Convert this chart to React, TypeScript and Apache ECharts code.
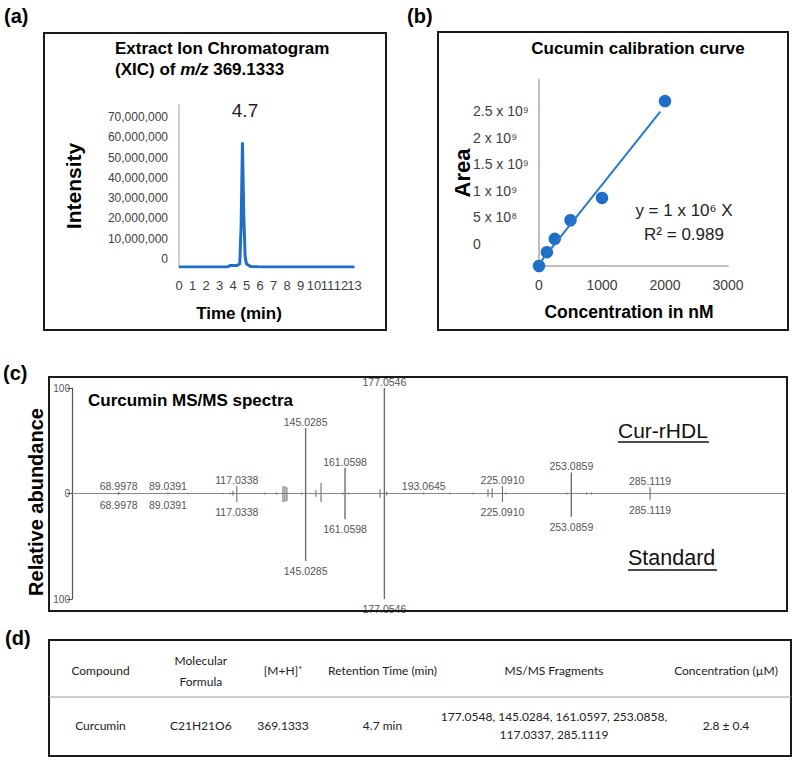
import React, { useEffect, useRef } from 'react';
import * as echarts from 'echarts';

// ---------- (a) XIC chromatogram ----------
const xicTime = [0, 3.6, 3.8, 4.3, 4.5, 4.6, 4.7, 4.8, 4.9, 5.0, 5.3, 6, 13];
const xicIntensity = [0, 0, 800000, 800000, 1500000, 20000000, 61500000, 25000000, 5000000, 1500000, 300000, 0, 0];
const xicPeakLabel = '4.7';

// ---------- (b) calibration curve ----------
const calConc = [0, 125, 250, 500, 1000, 2000];
const calArea = [0, 0.26e9, 0.51e9, 0.86e9, 1.28e9, 3.1e9];
const trendConc = [0, 1925];
const trendArea = [0.04e9, 2.9e9];
const calAreaTickLabels = ['0', '5 x 10\u2078', '1 x 10\u2079', '1.5 x 10\u2079', '2 x 10\u2079', '2.5 x 10\u2079'];

// ---------- (c) MS/MS spectra ----------
const peakMz = [68.9978, 89.0391, 97.2, 111.3, 114.3, 115.5, 117.0338, 128.5, 133.2, 135.8, 136.6, 137.4, 143.4, 145.0285, 149.2, 151.3, 160.2, 161.0598, 162.4, 175.3, 177.0546, 178.0, 193.0645, 203.7, 213.2, 219.2, 220.9, 225.091, 226.5, 251.2, 253.0859, 259.3, 261.3, 285.1119];
const rhdlAbundance = [1.5, 1, 0.8, 0.8, 1, 2.5, 7, 1, 1, 7, 7, 6, 1, 62, 3, 10, 1, 24.5, 1, 4, 100, 2, 1, 1, 1, 4, 5, 7, 1, 1, 20, 1, 1, 6];
const standardAbundance = [1.5, 1, 0.8, 0.8, 1, 2, 8, 1, 1, 8, 8, 7, 1, 64, 3, 8, 1, 24.5, 1, 4, 100, 2, 1, 1, 1, 3, 4, 8, 1, 1, 22, 1, 1, 6];
const rhdlLabeled = [68.9978, 89.0391, 117.0338, 145.0285, 161.0598, 177.0546, 193.0645, 225.091, 253.0859, 285.1119];
const standardLabeled = [68.9978, 89.0391, 117.0338, 145.0285, 161.0598, 177.0546, 225.091, 253.0859, 285.1119];

// ---------- (d) table ----------
const tableHeaders = ['Compound', 'Molecular\nFormula', '[M+H]\u207A', 'Retention Time (min)', 'MS/MS Fragments', 'Concentration (\u00B5M)'];
const tableRow = ['Curcumin', 'C21H21O6', '369.1333', '4.7 min', '177.0548, 145.0284, 161.0597, 253.0858,\n117.0337, 285.1119', '2.8 \u00B1 0.4'];

const ARIAL = '"Liberation Sans", Arial, sans-serif';
const CAL = 'Lato, "Open Sans", sans-serif';
const BLUE = '#1f6fc6';

function txt(x: number, y: number, text: string, o: any = {}) {
  const align = o.align || 'left';
  const va = o.verticalAlign || 'middle';
  return {
    type: 'text',
    x,
    y,
    rotation: o.rotation || 0,
    z: 10,
    style: {
      text,
      fill: o.fill || '#000',
      fontSize: o.fontSize || 12,
      fontWeight: o.fontWeight || 'normal',
      fontStyle: o.fontStyle || 'normal',
      fontFamily: o.fontFamily || ARIAL,
      align,
      verticalAlign: va,
      textAlign: align,
      textVerticalAlign: va,
      lineHeight: o.lineHeight,
      rich: o.rich,
    },
  };
}

function frame(x: number, y: number, w: number, h: number) {
  return {
    type: 'rect',
    z: 5,
    shape: { x, y, width: w, height: h },
    style: { fill: 'none', stroke: '#1a1a1a', lineWidth: 2 },
  };
}

function hline(x1: number, x2: number, y: number, stroke: string, lw: number) {
  return { type: 'line', z: 10, shape: { x1, y1: y, x2, y2: y }, style: { stroke, lineWidth: lw } };
}

function makePeakRender(side: number, labeled: number[]) {
  return (params: any, api: any) => {
    const mz = api.value(0);
    const ab = api.value(1);
    const base = api.coord([mz, 0]);
    const tip = api.coord([mz, ab]);
    const children: any[] = [
      {
        type: 'line',
        shape: { x1: base[0], y1: base[1], x2: tip[0], y2: tip[1] },
        style: { stroke: '#6e6e6e', lineWidth: ab > 15 || ab < -15 ? 1.4 : 1.1 },
      },
    ];
    if (labeled.indexOf(mz) >= 0) {
      children.push({
        type: 'text',
        x: tip[0],
        y: side > 0 ? tip[1] - 6 : tip[1] + 10,
        style: {
          text: mz.toFixed(4),
          fill: '#555',
          fontSize: 10.5,
          fontFamily: ARIAL,
          align: 'center',
          verticalAlign: 'middle',
        },
      });
    }
    return { type: 'group', children };
  };
}

export default function App() {
  const ref = useRef<HTMLDivElement>(null);

  useEffect(() => {
    if (!ref.current) return;
    const chart = echarts.init(ref.current, undefined, { renderer: 'svg' });

    const colX = [100.5, 200.8, 283, 382.5, 554, 726];

    const graphic: any[] = [
      // panel labels
      txt(4, 16, '(a)', { fontSize: 20, fontWeight: 'bold' }),
      txt(407, 16, '(b)', { fontSize: 20, fontWeight: 'bold' }),
      txt(3, 373, '(c)', { fontSize: 20, fontWeight: 'bold' }),
      txt(5, 638, '(d)', { fontSize: 20, fontWeight: 'bold' }),
      // frames
      frame(44, 33, 342, 297),
      frame(438, 32, 350, 298),
      frame(49, 377, 738, 234),
      frame(49, 640, 742, 116),
      // (a) texts
      txt(115, 48, 'Extract Ion Chromatogram', { fontSize: 17, fontWeight: 'bold' }),
      txt(115, 69, '{b|(XIC) of }{i|m/z}{b| 369.1333}', {
        fontSize: 17,
        fontWeight: 'bold',
        rich: {
          b: { fontSize: 17, fontWeight: 'bold', fontFamily: ARIAL, fill: '#000' },
          i: { fontSize: 17, fontWeight: 'bold', fontStyle: 'italic', fontFamily: ARIAL, fill: '#000' },
        },
      }),
      txt(245, 110, xicPeakLabel, { fontSize: 19, align: 'center', fill: '#222' }),
      txt(73, 186, 'Intensity', { fontSize: 21, fontWeight: 'bold', align: 'center', rotation: Math.PI / 2 }),
      txt(239, 313, 'Time (min)', { fontSize: 17, fontWeight: 'bold', align: 'center' }),
      // (b) texts
      txt(638, 48, 'Cucumin calibration curve', { fontSize: 17, fontWeight: 'bold', align: 'center' }),
      txt(462, 173, 'Area', { fontSize: 22, fontWeight: 'bold', align: 'center', rotation: Math.PI / 2 }),
      txt(629, 312, 'Concentration in nM', { fontSize: 17.5, fontWeight: 'bold', align: 'center' }),
      txt(684, 210, 'y = 1 x 10\u2076 X', { fontSize: 17, align: 'center', fill: '#222' }),
      txt(684, 234, 'R\u00B2 = 0.989', { fontSize: 17, align: 'center', fill: '#222' }),
      // (c) texts
      txt(88, 400, 'Curcumin MS/MS spectra', { fontSize: 17, fontWeight: 'bold' }),
      txt(36, 502, 'Relative abundance', { fontSize: 20, fontWeight: 'bold', align: 'center', rotation: Math.PI / 2 }),
      txt(618, 430, 'Cur-rHDL', { fontSize: 21, fill: '#111' }),
      hline(618, 709, 442, '#111', 1.5),
      txt(628, 558, 'Standard', { fontSize: 21.5, fill: '#111' }),
      hline(628, 717, 570, '#111', 1.5),
      // (d) table
      hline(49, 791, 697, '#9a9a9a', 1),
    ];

    tableHeaders.forEach((h, i) => {
      graphic.push(txt(colX[i], 670.5, h, { fontFamily: CAL, fontSize: 12, align: 'center', lineHeight: 21, fill: '#222' }));
    });
    tableRow.forEach((c, i) => {
      graphic.push(txt(colX[i], 725.5, c, { fontFamily: CAL, fontSize: 12, align: 'center', lineHeight: 18.5, fill: '#222' }));
    });

    const labelColor = '#404040';
    const timeLabelStyle = { color: labelColor, fontSize: 13, fontFamily: ARIAL, margin: 12 };

    chart.setOption({
      animation: false,
      backgroundColor: '#fff',
      grid: [
        { left: 179, top: 104.7, width: 175.5, height: 162.3, containLabel: false },
        { left: 539, top: 79.8, width: 189, height: 186.2, containLabel: false },
        { left: 72, top: 388, width: 713, height: 211, containLabel: false },
        // label-only grid for the area axis (labels printed above their ticks)
        { left: 539, top: 57.8, width: 189, height: 186.2, containLabel: false },
      ],
      xAxis: [
        {
          gridIndex: 0,
          type: 'value',
          position: 'bottom',
          min: 0,
          max: 13,
          interval: 1,
          axisLine: { show: false },
          axisTick: { show: false },
          splitLine: { show: false },
          axisLabel: { ...timeLabelStyle, showMinLabel: true, showMaxLabel: false, hideOverlap: false },
        },
        {
          gridIndex: 1,
          type: 'value',
          min: 0,
          max: 3000,
          interval: 1000,
          axisLine: { show: true, lineStyle: { color: '#bfbfbf', width: 2 } },
          axisTick: { show: false },
          splitLine: { show: false },
          axisLabel: {
            color: labelColor,
            fontSize: 14,
            fontFamily: ARIAL,
            margin: 12,
            formatter: (v: number) => String(v),
          },
        },
        {
          gridIndex: 2,
          type: 'value',
          min: 50,
          max: 340,
          axisLine: { show: true, onZero: true, lineStyle: { color: '#8a8a8a', width: 1.2 } },
          axisTick: { show: false },
          splitLine: { show: false },
          axisLabel: { show: false },
        },
        {
          gridIndex: 3,
          type: 'value',
          min: 0,
          max: 3000,
          show: false,
        },
        // second time axis: shows only the last tick label (13), which overlaps 12 as in the original
        {
          gridIndex: 0,
          type: 'value',
          position: 'bottom',
          min: 0,
          max: 13,
          interval: 1,
          axisLine: { show: false },
          axisTick: { show: false },
          splitLine: { show: false },
          axisLabel: {
            ...timeLabelStyle,
            showMinLabel: false,
            showMaxLabel: true,
            formatter: (v: number) => (v === 13 ? '13' : ''),
          },
        },
      ],
      yAxis: [
        {
          gridIndex: 0,
          type: 'value',
          min: 0,
          max: 80000000,
          interval: 10000000,
          axisLine: { show: true, lineStyle: { color: '#c0c0c0', width: 1.5 } },
          axisTick: { show: false },
          splitLine: { show: false },
          axisLabel: {
            color: labelColor,
            fontSize: 12,
            fontFamily: ARIAL,
            margin: 11,
            verticalAlign: 'bottom',
            lineHeight: 16,
            formatter: (v: number) => (v >= 80000000 ? '' : v.toLocaleString('en-US')),
          },
        },
        {
          gridIndex: 1,
          type: 'value',
          min: 0,
          max: 3500000000,
          interval: 500000000,
          axisLine: { show: true, lineStyle: { color: '#bfbfbf', width: 2 } },
          axisTick: { show: false },
          splitLine: { show: false },
          axisLabel: { show: false },
        },
        {
          gridIndex: 2,
          type: 'value',
          min: -100,
          max: 100,
          interval: 100,
          axisLine: { show: true, lineStyle: { color: '#555', width: 1.2 } },
          axisTick: { show: true, length: 5, lineStyle: { color: '#555' } },
          splitLine: { show: false },
          axisLabel: {
            color: '#555',
            fontSize: 10,
            fontFamily: ARIAL,
            margin: 2,
            formatter: (v: number) => String(Math.abs(v)),
          },
        },
        {
          gridIndex: 3,
          type: 'value',
          min: 0,
          max: 3500000000,
          interval: 500000000,
          axisLine: { show: false },
          axisTick: { show: false },
          splitLine: { show: false },
          axisLabel: {
            color: labelColor,
            fontSize: 14,
            fontFamily: ARIAL,
            align: 'left',
            margin: 66,
            showMinLabel: true,
            formatter: (v: number) => {
              const i = Math.round(v / 500000000);
              return i < calAreaTickLabels.length ? calAreaTickLabels[i] : '';
            },
          },
        },
      ],
      series: [
        {
          type: 'line',
          xAxisIndex: 0,
          yAxisIndex: 0,
          data: xicTime.map((t, i) => [t, xicIntensity[i]]),
          showSymbol: false,
          lineStyle: { color: BLUE, width: 3 },
          itemStyle: { color: BLUE },
        },
        {
          type: 'line',
          xAxisIndex: 1,
          yAxisIndex: 1,
          data: trendConc.map((c, i) => [c, trendArea[i]]),
          showSymbol: false,
          lineStyle: { color: '#2a78c8', width: 2 },
        },
        {
          type: 'scatter',
          xAxisIndex: 1,
          yAxisIndex: 1,
          data: calConc.map((c, i) => [c, calArea[i]]),
          symbolSize: 12.5,
          clip: false,
          itemStyle: { color: BLUE, opacity: 1 },
        },
        {
          type: 'custom',
          xAxisIndex: 2,
          yAxisIndex: 2,
          clip: false,
          renderItem: makePeakRender(1, rhdlLabeled),
          data: peakMz.map((m, i) => [m, rhdlAbundance[i]]),
        },
        {
          type: 'custom',
          xAxisIndex: 2,
          yAxisIndex: 2,
          clip: false,
          renderItem: makePeakRender(-1, standardLabeled),
          data: peakMz.map((m, i) => [m, -standardAbundance[i]]),
        },
      ],
      graphic,
    });

    return () => chart.dispose();
  }, []);

  return (
    <div
      ref={ref}
      style={{ position: 'absolute', left: 0, top: 0, width: 798, height: 768, background: '#fff' }}
    />
  );
}
